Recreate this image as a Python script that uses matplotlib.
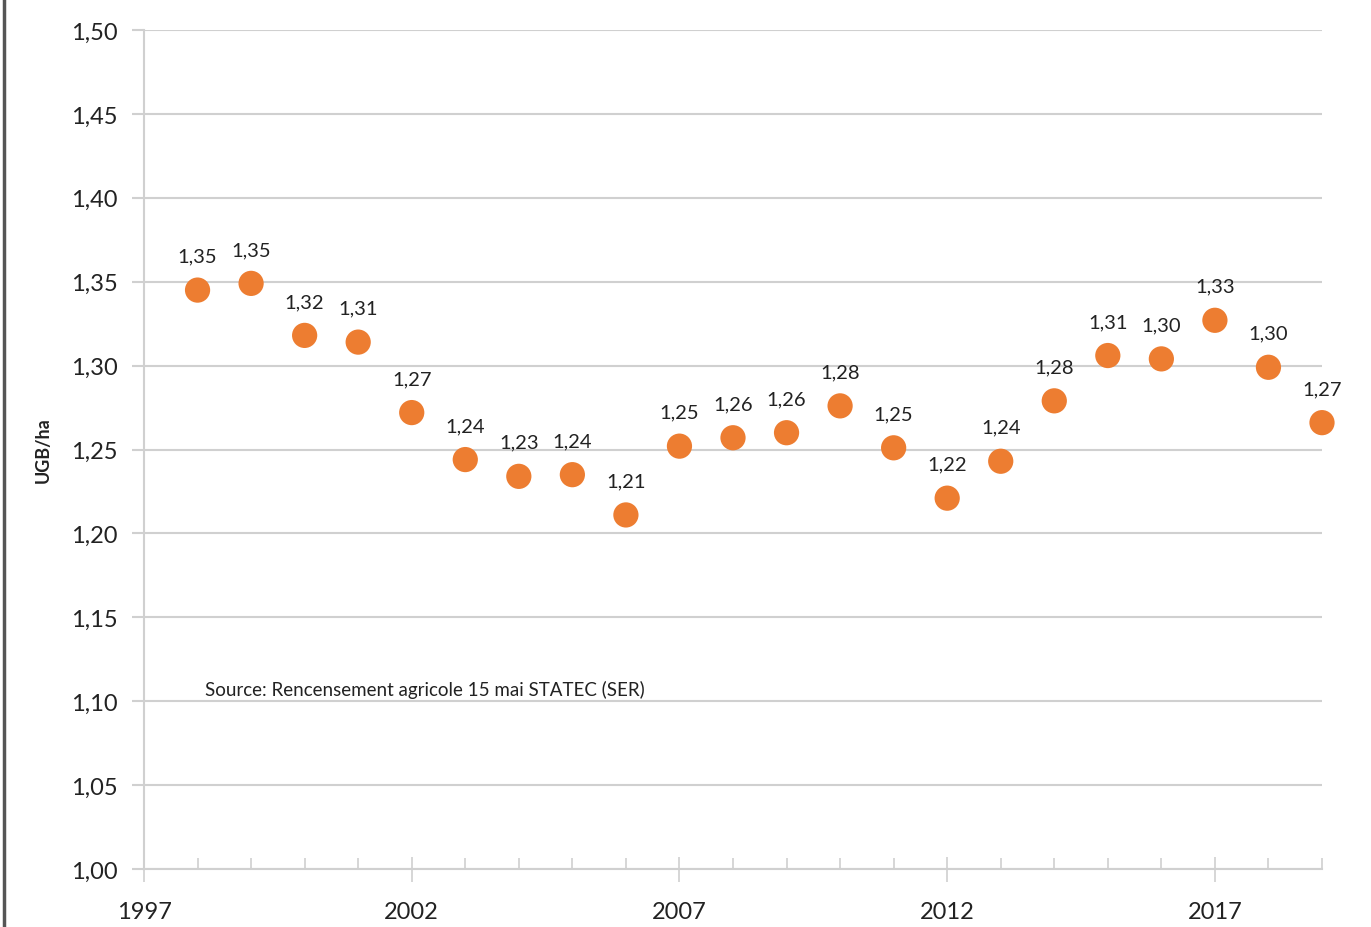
import matplotlib
matplotlib.use("Agg")
import matplotlib.pyplot as plt
from matplotlib.ticker import FixedLocator, MultipleLocator, FuncFormatter
from matplotlib.lines import Line2D

years = [1998, 1999, 2000, 2001, 2002, 2003, 2004, 2005, 2006, 2007, 2008,
         2009, 2010, 2011, 2012, 2013, 2014, 2015, 2016, 2017, 2018, 2019]
values = [1.345, 1.349, 1.318, 1.314, 1.272, 1.244, 1.234, 1.235, 1.211, 1.252, 1.257,
          1.260, 1.276, 1.251, 1.221, 1.243, 1.279, 1.306, 1.304, 1.327, 1.299, 1.266]
labels = ["1,35", "1,35", "1,32", "1,31", "1,27", "1,24", "1,23", "1,24", "1,21", "1,25", "1,26",
          "1,26", "1,28", "1,25", "1,22", "1,24", "1,28", "1,31", "1,30", "1,33", "1,30", "1,27"]
x_major_ticks = [1997, 2002, 2007, 2012, 2017]
source_text = "Source: Rencensement agricole 15 mai STATEC (SER)"
y_label = "UGB/ha"

plt.rcParams['font.family'] = ['Lato', 'DejaVu Sans']

fig = plt.figure(figsize=(13.71, 9.28), dpi=100)
ax = fig.add_axes([144/1371, 1-870/928, (1322-144)/1371, (870-31)/928])

grid_c = "#d0d0d0"
orange = "#ED7D31"
txt_c = "#222222"

ax.set_xlim(1997, 2019)
ax.set_ylim(1.0, 1.5)
ax.yaxis.set_major_locator(MultipleLocator(0.05))
ax.xaxis.set_major_locator(FixedLocator(x_major_ticks))
ax.xaxis.set_minor_locator(MultipleLocator(1))
ax.yaxis.set_major_formatter(FuncFormatter(lambda v, p: f"{v:.2f}".replace(".", ",")))
ax.xaxis.set_major_formatter(FuncFormatter(lambda v, p: f"{int(round(v))}"))

ax.grid(axis='y', color=grid_c, linewidth=1.5, zorder=0)
ax.set_axisbelow(True)
for s in ['top', 'right']:
    ax.spines[s].set_visible(False)
for s in ['left', 'bottom']:
    ax.spines[s].set_color(grid_c)
    ax.spines[s].set_linewidth(1.5)

ax.tick_params(axis='y', length=9, width=1.5, color=grid_c, labelsize=17, labelcolor=txt_c, pad=10)
ax.tick_params(axis='x', which='major', direction='inout', length=18, width=1.2, color=grid_c,
               labelsize=17, labelcolor=txt_c, pad=14)
ax.tick_params(axis='x', which='minor', direction='in', length=8, width=1.2, color=grid_c)

ax.scatter(years, values, s=330, color=orange, edgecolors='none', zorder=3, clip_on=False)
for x, v, l in zip(years, values, labels):
    ax.annotate(l, (x, v), xytext=(0, 34), textcoords='offset pixels', ha='center', va='center',
                fontsize=14.5, color=txt_c, annotation_clip=False)

ax.text(1998.14, 1.1075, source_text, fontsize=13.5, color=txt_c, ha='left', va='center')
ax.set_ylabel(y_label, fontsize=13, fontweight='bold', color=txt_c, labelpad=14)

fig.add_artist(Line2D([4/1371, 4/1371], [0, 1], color="#555555", linewidth=2.5))

fig.savefig("out.png", dpi=100, facecolor='white')
